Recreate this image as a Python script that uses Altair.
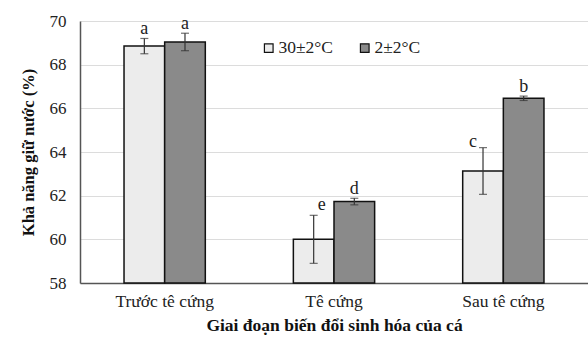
import altair as alt
import pandas as pd

stages = ["Trước tê cứng", "Tê cứng", "Sau tê cứng"]
temps = ["30±2°C", "2±2°C"]
means_30 = [68.85, 60.0, 63.13]
errs_30 = [0.35, 1.1, 1.07]
means_2 = [69.04, 61.73, 66.46]
errs_2 = [0.4, 0.15, 0.1]
letters_30 = ["a", "e", "c"]
letters_2 = ["a", "d", "b"]

rows = []
for i, s in enumerate(stages):
    rows.append(dict(stage=s, temp=temps[0], mean=means_30[i], err=errs_30[i], letter=letters_30[i]))
    rows.append(dict(stage=s, temp=temps[1], mean=means_2[i], err=errs_2[i], letter=letters_2[i]))
df = pd.DataFrame(rows)
df["lo"] = df["mean"] - df["err"]
df["hi"] = df["mean"] + df["err"]
df["base"] = 58

FONT = "Liberation Serif"

x = alt.X("stage:N", sort=stages,
          scale=alt.Scale(paddingInner=0.52, paddingOuter=0.26),
          axis=alt.Axis(title="Giai đoạn biến đổi sinh hóa của cá", labelAngle=0,
                        labelFont=FONT, labelFontSize=17.5, labelColor="#222",
                        titleFont=FONT, titleFontSize=17.5, titleFontWeight="bold",
                        titleColor="#111", titlePadding=7, labelPadding=9,
                        ticks=False, domainColor="#555", domainWidth=1.5))
xo = alt.XOffset("temp:N", sort=temps)
yscale = alt.Scale(domain=[58, 70], nice=False, zero=False)

base = alt.Chart(df)

bars = base.mark_bar(stroke="#111", strokeWidth=1.5).encode(
    x=x, xOffset=xo,
    y=alt.Y("mean:Q", scale=yscale,
            axis=alt.Axis(title="Khả năng giữ nước (%)", values=[58, 60, 62, 64, 66, 68, 70],
                          labelFont=FONT, labelFontSize=17, labelColor="#222",
                          titleFont=FONT, titleFontSize=16.5, titleFontWeight="bold",
                          titleColor="#111", titlePadding=13, labelPadding=14,
                          ticks=False, domainColor="#555", domainWidth=1.5,
                          gridColor="#dcdcdc", gridWidth=1)),
    y2="base:Q",
    fill=alt.Fill("temp:N", sort=temps,
                  scale=alt.Scale(domain=temps, range=["#ececec", "#8a8a8a"]),
                  legend=alt.Legend(title=None, orient="none", legendX=180, legendY=18,
                                    direction="horizontal", symbolType="square",
                                    symbolSize=75, symbolStrokeColor="#111",
                                    symbolStrokeWidth=1.2, columnPadding=22,
                                    labelFont=FONT, labelFontSize=17.5, labelColor="#222",
                                    labelOffset=1)),
)

errs = base.mark_rule(color="#333", strokeWidth=1.2).encode(
    x=x, xOffset=xo, y="lo:Q", y2="hi:Q")
caps_hi = base.mark_tick(color="#333", thickness=1.2, size=8, orient="horizontal").encode(
    x=x, xOffset=xo, y=alt.Y("hi:Q", scale=yscale))
caps_lo = base.mark_tick(color="#333", thickness=1.2, size=8, orient="horizontal").encode(
    x=x, xOffset=xo, y=alt.Y("lo:Q", scale=yscale))

txt_kw = dict(font=FONT, fontSize=18, color="#222", baseline="alphabetic")
normal = base.transform_filter("datum.letter != 'e' && datum.letter != 'c'").mark_text(dy=-4, **txt_kw).encode(
    x=x, xOffset=xo, y=alt.Y("hi:Q", scale=yscale), text="letter:N")
lab_e = base.transform_filter("datum.letter == 'e'").mark_text(dx=8, dy=-5, **txt_kw).encode(
    x=x, xOffset=xo, y=alt.Y("hi:Q", scale=yscale), text="letter:N")
lab_c = base.transform_filter("datum.letter == 'c'").mark_text(dx=-10, dy=-1, **txt_kw).encode(
    x=x, xOffset=xo, y=alt.Y("hi:Q", scale=yscale), text="letter:N")

chart = alt.layer(bars, errs, caps_hi, caps_lo, normal, lab_e, lab_c).properties(
    width=508, height=262,
    autosize=alt.AutoSizeParams(type="none"),
    padding={"left": 80, "top": 21, "right": 0, "bottom": 56},
    background="white",
).configure_view(stroke=None)

chart.save("out.html", embed_options={"renderer": "svg", "actions": False})
